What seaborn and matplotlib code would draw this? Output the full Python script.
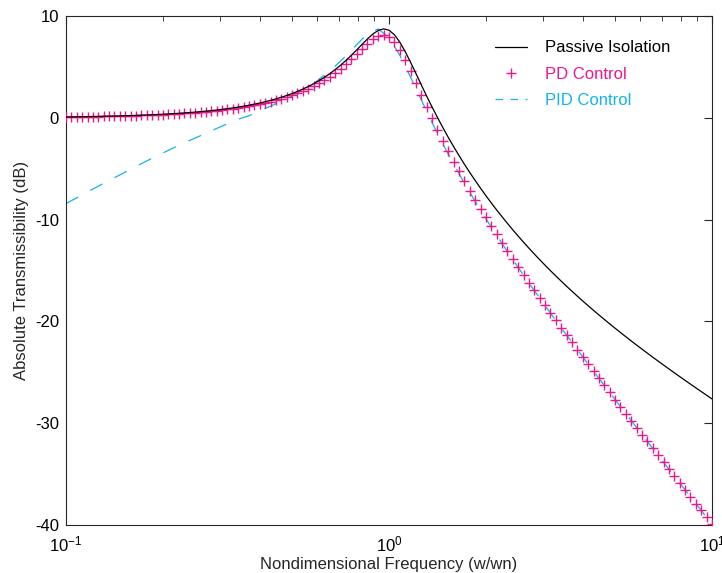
import seaborn as sns
import matplotlib.pyplot as plt
import matplotlib.ticker as mticker
from matplotlib.lines import Line2D
import pandas as pd
import numpy as np

# frequency ratio w/wn (log-spaced sample points, 60 per decade)
freq = [0.1000, 0.1039, 0.1080, 0.1122, 0.1166, 0.1212, 0.1259, 0.1308, 0.1359, 0.1413,
        0.1468, 0.1525, 0.1585, 0.1647, 0.1711, 0.1778, 0.1848, 0.1920, 0.1995, 0.2073,
        0.2154, 0.2239, 0.2326, 0.2417, 0.2512, 0.2610, 0.2712, 0.2818, 0.2929, 0.3043,
        0.3162, 0.3286, 0.3415, 0.3548, 0.3687, 0.3831, 0.3981, 0.4137, 0.4299, 0.4467,
        0.4642, 0.4823, 0.5012, 0.5208, 0.5412, 0.5623, 0.5843, 0.6072, 0.6310, 0.6556,
        0.6813, 0.7079, 0.7356, 0.7644, 0.7943, 0.8254, 0.8577, 0.8913, 0.9261, 0.9624,
        1.000, 1.039, 1.080, 1.122, 1.166, 1.212, 1.259, 1.308, 1.359, 1.413,
        1.468, 1.525, 1.585, 1.647, 1.711, 1.778, 1.848, 1.920, 1.995, 2.073,
        2.154, 2.239, 2.326, 2.417, 2.512, 2.610, 2.712, 2.818, 2.929, 3.043,
        3.162, 3.286, 3.415, 3.548, 3.687, 3.831, 3.981, 4.137, 4.299, 4.467,
        4.642, 4.823, 5.012, 5.208, 5.412, 5.623, 5.843, 6.072, 6.310, 6.556,
        6.813, 7.079, 7.356, 7.644, 7.943, 8.254, 8.577, 8.913, 9.261, 9.624,
        10.00]

passive = [0.087, 0.094, 0.102, 0.110, 0.119, 0.128, 0.138, 0.150, 0.162, 0.175,
           0.189, 0.204, 0.220, 0.238, 0.257, 0.278, 0.300, 0.324, 0.351, 0.379,
           0.410, 0.443, 0.479, 0.518, 0.560, 0.606, 0.655, 0.709, 0.767, 0.831,
           0.899, 0.974, 1.055, 1.142, 1.238, 1.342, 1.455, 1.578, 1.712, 1.859,
           2.018, 2.193, 2.383, 2.592, 2.820, 3.070, 3.344, 3.645, 3.975, 4.336,
           4.731, 5.163, 5.632, 6.135, 6.668, 7.215, 7.751, 8.231, 8.586, 8.735,
           8.603, 8.160, 7.438, 6.508, 5.456, 4.349, 3.231, 2.131, 1.063, 0.031,
           -0.960, -1.912, -2.827, -3.706, -4.552, -5.367, -6.153, -6.913, -7.648, -8.360,
           -9.051, -9.721, -10.372, -11.006, -11.623, -12.224, -12.810, -13.382, -13.941, -14.486,
           -15.020, -15.542, -16.053, -16.554, -17.045, -17.527, -17.999, -18.463, -18.919, -19.367,
           -19.808, -20.243, -20.671, -21.093, -21.509, -21.920, -22.326, -22.726, -23.123, -23.515,
           -23.904, -24.287, -24.669, -25.047, -25.422, -25.793, -26.162, -26.529, -26.893, -27.256,
           -27.616]

pd_ctrl = [0.080, 0.087, 0.094, 0.101, 0.109, 0.118, 0.127, 0.138, 0.149, 0.161,
           0.174, 0.188, 0.203, 0.219, 0.237, 0.256, 0.276, 0.299, 0.323, 0.349,
           0.378, 0.408, 0.441, 0.477, 0.517, 0.559, 0.605, 0.654, 0.708, 0.767,
           0.830, 0.899, 0.974, 1.056, 1.145, 1.241, 1.346, 1.461, 1.586, 1.722,
           1.871, 2.034, 2.212, 2.407, 2.621, 2.856, 3.113, 3.396, 3.706, 4.047,
           4.420, 4.828, 5.271, 5.747, 6.250, 6.766, 7.268, 7.711, 8.028, 8.135,
           7.959, 7.468, 6.695, 5.711, 4.601, 3.433, 2.250, 1.080, -0.062, -1.173,
           -2.246, -3.287, -4.294, -5.271, -6.220, -7.145, -8.046, -8.926, -9.788, -10.633,
           -11.463, -12.278, -13.081, -13.873, -14.654, -15.426, -16.189, -16.944, -17.693, -18.434,
           -19.170, -19.900, -20.625, -21.346, -22.062, -22.775, -23.484, -24.189, -24.892, -25.592,
           -26.289, -26.984, -27.677, -28.368, -29.057, -29.744, -30.430, -31.114, -31.797, -32.479,
           -33.160, -33.839, -34.518, -35.196, -35.873, -36.549, -37.224, -37.899, -38.573, -39.247,
           -39.920]

# PID curve, read at every second frequency point
pid_ctrl = [-8.42, -7.86, -7.27, -6.72, -6.15, -5.61, -5.06, -4.51, -3.97, -3.46,
            -2.95, -2.46, -1.98, -1.53, -1.04, -0.58, -0.13, 0.20, 0.68, 1.14,
            1.62, 2.16, 2.74, 3.35, 4.21, 5.07, 6.07, 7.18, 8.27, 8.73,
            7.86, 6.15, 4.00, 1.75, -0.46, -2.57, -4.54, -6.42, -8.20, -9.91,
            -11.55, -13.15, -14.70, -16.23, -17.72, -19.19, -20.64, -22.07, -23.49, -24.90,
            -26.29, -27.68, -29.06, -30.43, -31.80, -33.16, -34.52, -35.87, -37.22, -38.57,
            -39.92]

labels = ['Passive Isolation', 'PD Control', 'PID Control']
c_black = 'black'
c_pd = '#EC178C'
c_pid = '#12B4EA'

sns.set_style('white')
plt.rcParams['font.family'] = ['Liberation Sans', 'DejaVu Sans']
plt.rcParams['font.size'] = 12
plt.rcParams['axes.unicode_minus'] = False

df = pd.DataFrame({'w': freq, 'passive': passive, 'pd': pd_ctrl})
df_pid = pd.DataFrame({'w': freq[::2], 'pid': pid_ctrl})

fig = plt.figure(figsize=(7.22, 5.73), dpi=100)
ax = fig.add_axes([66 / 722, 48 / 573, 646 / 722, 509 / 573])

sns.lineplot(data=df_pid, x='w', y='pid', ax=ax, color=c_pid, lw=0.9,
             dashes=False, zorder=2).lines[-1].set_dashes((11, 11))
sns.scatterplot(data=df, x='w', y='pd', ax=ax, marker='+', s=45, color=c_pd,
                linewidth=1.0, zorder=3)
sns.lineplot(data=df, x='w', y='passive', ax=ax, color=c_black, lw=0.9, zorder=4)

ax.set_xscale('log')
ax.set_xlim(0.1, 10)
ax.set_ylim(-40, 10)
ax.set_yticks([-40, -30, -20, -10, 0, 10])
ax.xaxis.set_major_locator(mticker.LogLocator(base=10, numticks=5))
ax.xaxis.set_minor_locator(mticker.LogLocator(base=10, subs=np.arange(2, 10), numticks=20))
ax.xaxis.set_minor_formatter(mticker.NullFormatter())
ax.tick_params(which='both', direction='in', top=True, right=True, colors='#262626',
               labelcolor='black')
ax.tick_params(which='major', length=6, width=0.8)
ax.tick_params(which='minor', length=3.5, width=0.6)
ax.tick_params(axis='x', which='major', pad=7)
ax.tick_params(axis='y', which='major', pad=5)
for s in ax.spines.values():
    s.set_color('#262626')
    s.set_linewidth(0.8)

ax.set_xlabel('Nondimensional Frequency (w/wn)', labelpad=2)
ax.set_ylabel('Absolute Transmissibility (dB)', labelpad=4)

handles = [Line2D([], [], color=c_black, lw=0.9),
           Line2D([], [], color=c_pd, marker='+', ls='none', markersize=7, mew=1.0),
           Line2D([], [], color=c_pid, lw=0.9, dashes=(6, 6))]
ax.legend(handles, labels, loc='upper left', frameon=False, handlelength=1.95,
          handletextpad=1.05, labelspacing=0.68, borderpad=0, borderaxespad=0,
          labelcolor=[c_black, c_pd, c_pid], bbox_to_anchor=(0.664, 0.952))

fig.savefig('out.png', dpi=100)
